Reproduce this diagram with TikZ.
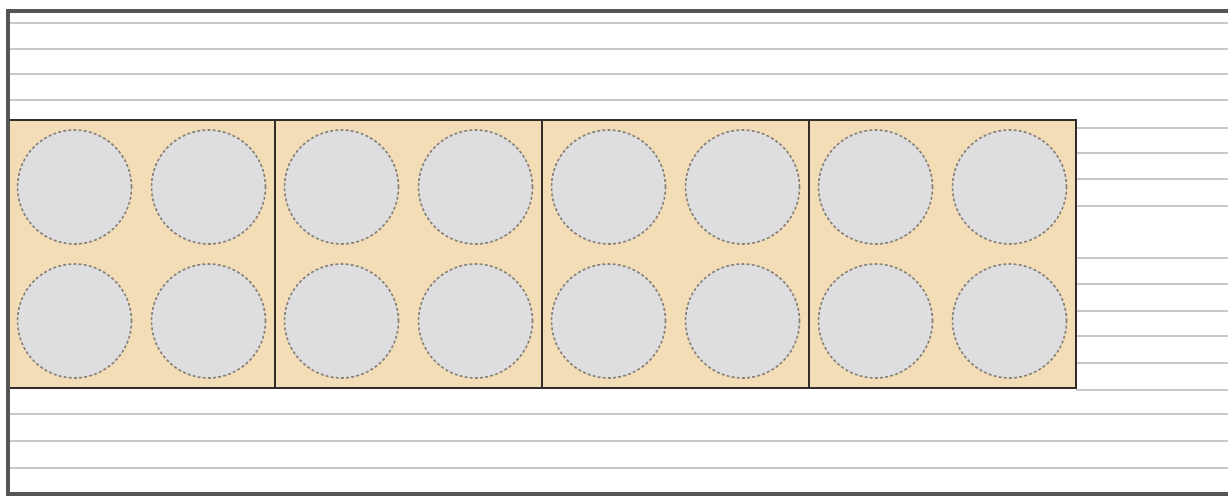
\documentclass[tikz,border=0pt]{standalone}
\usepackage{tikz}
\usetikzlibrary{positioning}

\definecolor{framegray}{RGB}{85,85,85}
\definecolor{rulegray}{RGB}{200,200,200}
\definecolor{boxfill}{RGB}{243,221,182}
\definecolor{boxline}{RGB}{50,44,38}
\definecolor{ballfill}{RGB}{222,222,224}
\definecolor{balledge}{RGB}{135,130,124}

\tikzset{
    rule/.style={rulegray, line width=1.6pt},
    cellbox/.style={draw=boxline, fill=boxfill, line width=1.5pt, inner sep=0pt, outer sep=0pt,
        minimum width=8.01cm, minimum height=8.04cm},
    ball/.style={circle, draw=balledge, fill=ballfill, line width=1.4pt, dash pattern=on 2.4pt off 2pt,
        inner sep=0pt, minimum size=3.42cm}
}

\begin{document}
\begin{tikzpicture}[x=0.03cm, y=-0.03cm]
    \useasboundingbox (0,0) rectangle (1228,497);

    % Full width rules
    \foreach \y in {23,49,74,100,414,441,468}
        \draw[rule] (8,\y) -- (1228,\y);

    % Rules right of the boxes
    \foreach \y in {128,153,179,206,258,284,311,336,363,390}
        \draw[rule] (1076,\y) -- (1228,\y);

    % Boxes with four balls each
    \foreach \i in {0,1,2,3} {
        \node[cellbox] (box\i) at ({8+133.5+267*\i},254) {};
        \node[ball] (ball\i a) at ({8+66.5+267*\i},187) {};
        \node[ball] (ball\i b) at ({8+200.5+267*\i},187) {};
        \node[ball] (ball\i c) at ({8+66.5+267*\i},321) {};
        \node[ball] (ball\i d) at ({8+200.5+267*\i},321) {};
    }

    % Outer frame, open on the right
    \draw[framegray, line width=3.4pt] (1228,11) -- (8,11) -- (8,494) -- (1228,494);
\end{tikzpicture}
\end{document}
